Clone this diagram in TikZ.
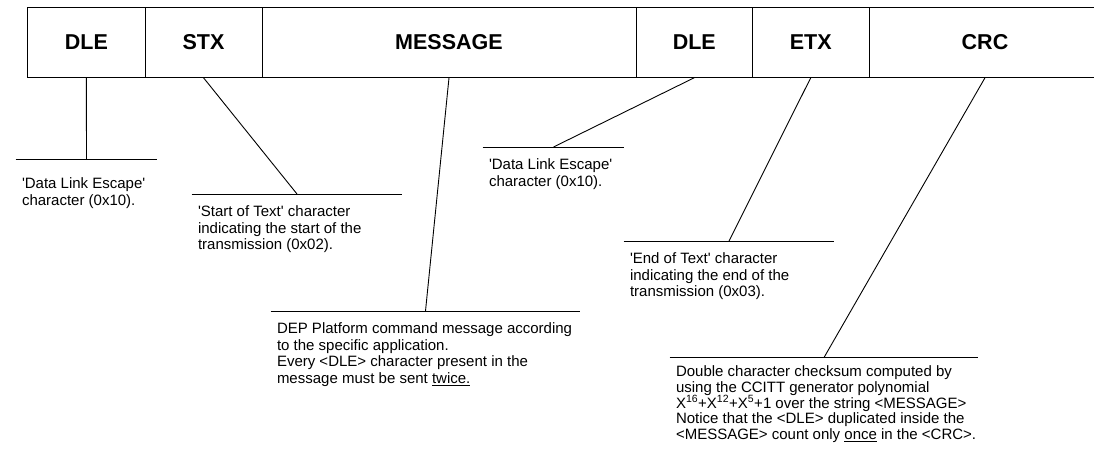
\documentclass[tikz,border=0pt]{standalone}
\usepackage{fontspec}
\setmainfont{Liberation Sans}
\usetikzlibrary{positioning}

\newcommand{\q}{\textquotesingle}

\begin{document}
\begin{tikzpicture}[x=1pt, y=-1pt, line width=0.9pt,
    cell/.style={draw, minimum height=70pt, inner sep=0pt,
      font=\fontsize{21.5}{24}\selectfont\bfseries},
    rule/.style={minimum width=#1, minimum height=0pt, inner sep=0pt},
    note/.style={align=left, inner sep=0pt,
      font=\fontsize{15}{16.7}\selectfont}]
  \useasboundingbox (0,0) rectangle (1094,454);

  % frame fields
  \node[cell, minimum width=117.3pt] (dle)  at (86.35,42.3)  {DLE};
  \node[cell, minimum width=117pt]   (stx)  at (203.5,42.3)  {STX};
  \node[cell, minimum width=374pt]   (msg)  at (449,42.3)    {MESSAGE};
  \node[cell, minimum width=116.5pt] (dleb) at (694.25,42.3) {DLE};
  \node[cell, minimum width=116.5pt] (etx)  at (810.75,42.3) {ETX};
  \node[cell, minimum width=232pt]   (crc)  at (985,42.3)    {CRC};

  % rules the notes hang from
  \node[rule=141pt] (dleRule)  at (86.5,159)  {};
  \node[rule=210pt] (stxRule)  at (297,194)   {};
  \node[rule=309pt] (msgRule)  at (425.5,311) {};
  \node[rule=141pt] (dlebRule) at (553.5,147) {};
  \node[rule=210pt] (etxRule)  at (729,241)   {};
  \node[rule=308pt] (crcRule)  at (824,357.5) {};
  \foreach \r in {dleRule, stxRule, msgRule, dlebRule, etxRule, crcRule}
    \draw (\r.west) -- (\r.east);

  % leaders
  \foreach \c in {dle, stx, msg, dleb, etx, crc}
    \draw (\c.south) -- (\c Rule.center);

  % notes
  \node[note, below right=18pt and 6pt of dleRule.west] (dleNote)
    {\q Data Link Escape\q\\character (0x10).};
  \node[note, below right=11pt and 6pt of stxRule.west] (stxNote)
    {\q Start of Text\q{} character\\indicating the start of the\\transmission (0x02).};
  \node[note, below right=11pt and 6pt of msgRule.west] (msgNote)
    {DEP Platform command message according\\to the specific application.\\
     Every <DLE> character present in the\\message must be sent \underline{twice.}};
  \node[note, below right=11pt and 6pt of dlebRule.west] (dlebNote)
    {\q Data Link Escape\q\\character (0x10).};
  \node[note, below right=11pt and 6pt of etxRule.west] (etxNote)
    {\q End of Text\q{} character\\indicating the end of the\\transmission (0x03).};
  \node[note, below right=8pt and 6pt of crcRule.west,
        font=\fontsize{15}{15.7}\selectfont] (crcNote)
    {Double character checksum computed by\\using the CCITT generator polynomial\\
     X\textsuperscript{16}+X\textsuperscript{12}+X\textsuperscript{5}+1 over the string <MESSAGE>\\
     Notice that the <DLE> duplicated inside the\\
     <MESSAGE> count only \underline{once} in the <CRC>.};
\end{tikzpicture}
\end{document}
